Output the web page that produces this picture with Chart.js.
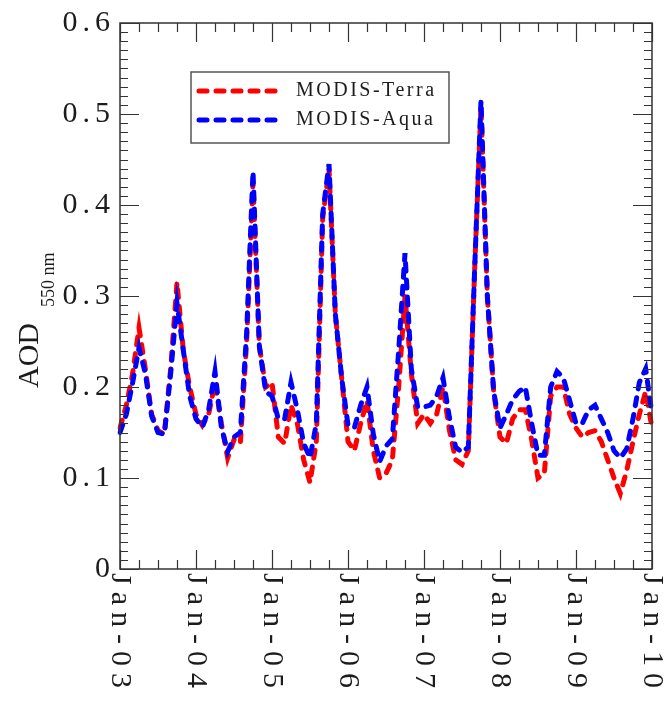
<!DOCTYPE html>
<html>
<head>
<meta charset="utf-8">
<script src="https://cdn.jsdelivr.net/npm/chart.js@4.4.0/dist/chart.umd.min.js"></script>
<style>
  body { margin: 0; background: #fff; }
</style>
</head>
<body>
<canvas id="myChart" width="666" height="701"></canvas>
<script>
// monthly labels Jan-03 .. Jan-10
const monthNames = ["Jan", "Feb", "Mar", "Apr", "May", "Jun", "Jul", "Aug", "Sep", "Oct", "Nov", "Dec"];
const months = [];
for (let yr = 3; yr <= 10; yr++) {
    for (let m = 0; m < 12; m++) {
        if (yr === 10 && m > 0) break;
        months.push(monthNames[m] + "-" + String(yr).padStart(2, "0"));
    }
}

const yearTicks = ["Jan-03", "Jan-04", "Jan-05", "Jan-06", "Jan-07", "Jan-08", "Jan-09", "Jan-10"];
const yTicks = [0, 0.1, 0.2, 0.3, 0.4, 0.5, 0.6];
const yTickLabels = ["0", "0.1", "0.2", "0.3", "0.4", "0.5", "0.6"];

const terra = [
    0.155, 0.18, 0.215, 0.265, 0.22, 0.17, 0.152, 0.148, 0.22, 0.315, 0.24, 0.2,
    0.17, 0.158, 0.17, 0.205, 0.16, 0.122, 0.142, 0.138, 0.25, 0.425, 0.245, 0.2,
    0.205, 0.145, 0.138, 0.18, 0.16, 0.12, 0.095, 0.14, 0.385, 0.44, 0.28, 0.21,
    0.14, 0.13, 0.16, 0.185, 0.13, 0.1, 0.105, 0.12, 0.2, 0.3, 0.215, 0.16,
    0.17, 0.16, 0.17, 0.2, 0.153, 0.12, 0.115, 0.13, 0.33, 0.51, 0.3, 0.195,
    0.145, 0.138, 0.165, 0.175, 0.175, 0.142, 0.1, 0.105, 0.19, 0.2, 0.2, 0.17,
    0.155, 0.145, 0.15, 0.152, 0.14, 0.12, 0.1, 0.083, 0.108, 0.14, 0.17, 0.195,
    0.155
];
const aqua = [
    0.15, 0.17, 0.205, 0.243, 0.215, 0.168, 0.15, 0.148, 0.215, 0.292, 0.24, 0.19,
    0.165, 0.156, 0.175, 0.217, 0.156, 0.129, 0.145, 0.15, 0.26, 0.437, 0.245, 0.195,
    0.19, 0.165, 0.165, 0.205, 0.175, 0.138, 0.122, 0.16, 0.39, 0.445, 0.28, 0.21,
    0.158, 0.155, 0.18, 0.2, 0.148, 0.118, 0.135, 0.143, 0.24, 0.347, 0.22, 0.178,
    0.178, 0.18, 0.19, 0.21, 0.167, 0.134, 0.128, 0.134, 0.33, 0.515, 0.3, 0.195,
    0.155, 0.17, 0.186, 0.195, 0.2, 0.16, 0.125, 0.125, 0.2, 0.217, 0.21, 0.185,
    0.16, 0.16, 0.175, 0.18, 0.165, 0.15, 0.13, 0.122, 0.132, 0.165, 0.205, 0.22,
    0.17
];

const serif = "'Liberation Serif', 'DejaVu Serif', serif";
const ink = "#1c1c1c";

// frame, inward ticks, tick labels, axis title and legend
const framePlugin = {
    id: "frame",
    afterDatasetsDraw(chart) {
        const ctx = chart.ctx;
        const a = chart.chartArea;
        const x = chart.scales.x, y = chart.scales.y;
        ctx.save();
        ctx.strokeStyle = "#333";
        ctx.lineWidth = 1.5;
        ctx.strokeRect(a.left, a.top, a.right - a.left, a.bottom - a.top);

        // y ticks, both sides
        ctx.lineWidth = 1.2;
        ctx.beginPath();
        for (let i = 0; i <= 60; i++) {
            const py = Math.round(y.getPixelForValue(i / 100)) + 0.5;
            const len = i % 10 === 0 ? 19 : 8;
            ctx.moveTo(a.left, py); ctx.lineTo(a.left + len, py);
            ctx.moveTo(a.right, py); ctx.lineTo(a.right - len, py);
        }
        // x ticks every quarter, top and bottom
        for (let i = 0; i < months.length; i += 3) {
            const px = Math.round(x.getPixelForValue(i)) + 0.5;
            const len = i % 12 === 0 ? 19 : 9;
            ctx.moveTo(px, a.bottom); ctx.lineTo(px, a.bottom - len);
            ctx.moveTo(px, a.top); ctx.lineTo(px, a.top + len);
        }
        ctx.stroke();

        // y tick labels
        ctx.fillStyle = ink;
        ctx.font = "30px " + serif;
        ctx.letterSpacing = "5px";
        ctx.textAlign = "right";
        ctx.textBaseline = "middle";
        yTicks.forEach((v, i) => {
            ctx.fillText(yTickLabels[i], a.left - 5, y.getPixelForValue(v));
        });

        // x tick labels, rotated to read downward
        ctx.letterSpacing = "7px";
        ctx.textAlign = "left";
        yearTicks.forEach(lab => {
            const idx = months.indexOf(lab);
            const px = x.getPixelForValue(idx);
            ctx.save();
            ctx.translate(px, a.bottom + 4);
            ctx.rotate(Math.PI / 2);
            ctx.fillText(lab, 0, 0);
            ctx.restore();
        });

        // y axis title: AOD with subscript
        ctx.letterSpacing = "0px";
        ctx.save();
        ctx.translate(38, 388);
        ctx.rotate(-Math.PI / 2);
        ctx.textBaseline = "alphabetic";
        ctx.font = "30px " + serif;
        ctx.fillText("AOD", 0, 0);
        const w = ctx.measureText("AOD").width;
        ctx.font = "18px " + serif;
        ctx.fillText("550 nm", w + 16, 16);
        ctx.restore();

        // legend box
        const box = { l: 191, t: 72, r: 449, b: 143 };
        ctx.fillStyle = "#fff";
        ctx.fillRect(box.l, box.t, box.r - box.l, box.b - box.t);
        ctx.strokeStyle = "#555";
        ctx.lineWidth = 1.5;
        ctx.strokeRect(box.l, box.t, box.r - box.l, box.b - box.t);
        chart.data.datasets.forEach((ds, i) => {
            const ly = 91 + i * 29;
            ctx.strokeStyle = ds.borderColor;
            ctx.lineWidth = ds.borderWidth;
            ctx.lineCap = "round";
            ctx.setLineDash(ds.borderDash);
            ctx.beginPath();
            ctx.moveTo(199, ly); ctx.lineTo(284, ly);
            ctx.stroke();
            ctx.setLineDash([]);
            ctx.fillStyle = ink;
            ctx.font = "20px " + serif;
            ctx.letterSpacing = "2.5px";
            ctx.textAlign = "left";
            ctx.textBaseline = "middle";
            ctx.fillText(ds.label, 296, ly);
        });
        ctx.restore();
    }
};

new Chart("myChart", {
    type: "line",
    data: {
        labels: months,
        datasets: [{
            label: "MODIS-Terra",
            data: terra,
            borderColor: "#ff0000",
            borderWidth: 5,
            borderDash: [8, 9],
            borderCapStyle: "round",
            pointRadius: 0,
            tension: 0,
            fill: false,
            order: 2
        }, {
            label: "MODIS-Aqua",
            data: aqua,
            borderColor: "#0000ff",
            borderWidth: 5,
            borderDash: [8, 9],
            borderCapStyle: "round",
            pointRadius: 0,
            tension: 0,
            fill: false,
            order: 1
        }]
    },
    options: {
        responsive: false,
        animation: false,
        layout: { padding: { left: 120, right: 14, top: 23, bottom: 132 } },
        plugins: { legend: { display: false }, tooltip: { enabled: false } },
        scales: {
            x: { type: "category", offset: false, display: false },
            y: { type: "linear", min: 0, max: 0.6, display: false }
        }
    },
    plugins: [framePlugin]
});
</script>
</body>
</html>
